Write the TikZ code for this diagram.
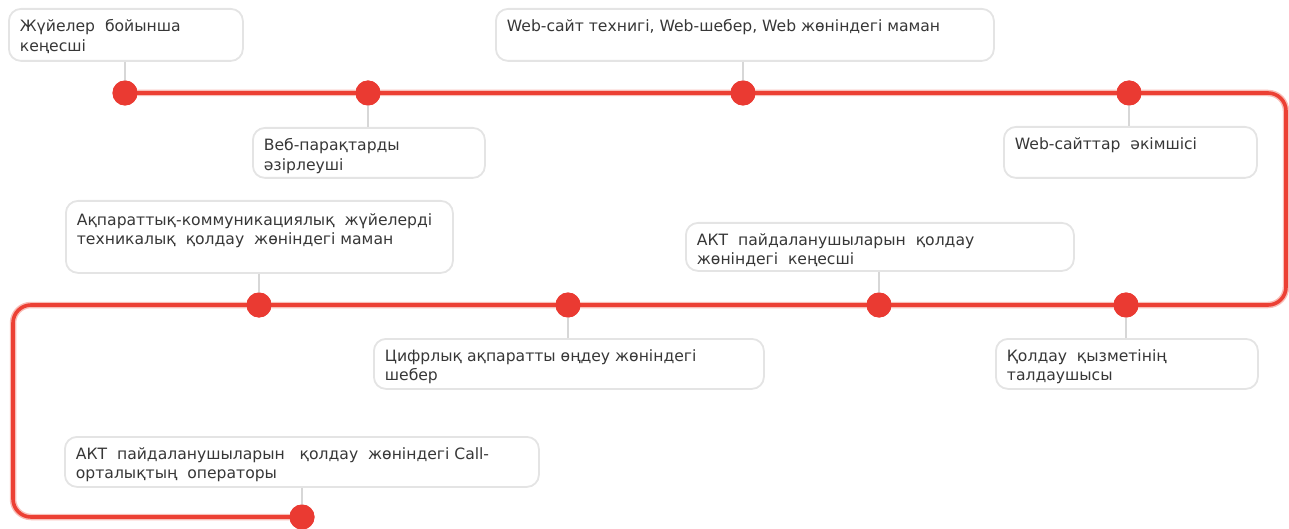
\documentclass[tikz,border=0pt]{standalone}
\usepackage{fontspec}
\setmainfont{DejaVu Sans}
\definecolor{linered}{RGB}{236,64,52}
\definecolor{halo}{RGB}{248,190,184}
\definecolor{dotred}{RGB}{234,58,50}
\definecolor{cardgray}{RGB}{228,228,228}
\definecolor{tickgray}{RGB}{215,215,215}
\definecolor{txtgray}{RGB}{55,55,55}
\newcommand\cardtext[3]{\parbox[t][#2][t]{#1}{\raggedright #3}}
\begin{document}
\begin{tikzpicture}[x=1pt,y=-1pt,
  card/.style={draw=cardgray, line width=1.8pt, rounded corners=12pt, fill=white,
    anchor=north west, inner xsep=11pt, inner ysep=10.5pt, text=txtgray,
    font=\fontsize{15.6}{19.5}\selectfont},
  dotnode/.style={circle, fill=dotred, minimum size=25pt, inner sep=0pt},
  tick/.style={draw=tickgray, line width=1.5pt},
  track/.style={draw=linered, line width=3.6pt, rounded corners=18pt},
  trackhalo/.style={draw=halo, line width=6.5pt, rounded corners=18pt}]
\useasboundingbox (0,0) rectangle (1289,529);

% dots
\node[dotnode] (d1) at (125,93) {};
\node[dotnode] (d2) at (368,93) {};
\node[dotnode] (d3) at (743,93) {};
\node[dotnode] (d4) at (1129,93) {};
\node[dotnode] (d5) at (259,305) {};
\node[dotnode] (d6) at (568,305) {};
\node[dotnode] (d7) at (879,305) {};
\node[dotnode] (d8) at (1126,305) {};
\node[dotnode] (d9) at (302,517) {};

\coordinate (c1) at (1286,93);
\coordinate (c2) at (1286,305);
\coordinate (c3) at (13,305);
\coordinate (c4) at (13,517);

% track
\draw[trackhalo] (d1.center) -- (c1) -- (c2) -- (c3) -- (c4) -- (d9.center);
\draw[track] (d1.center) -- (c1) -- (c2) -- (c3) -- (c4) -- (d9.center);

% cards
\node[card] (b1) at (8,8) {\cardtext{212pt}{31pt}{Жүйелер\ \ бойынша\\кеңесші}};
\node[card] (b2) at (252,127) {\cardtext{210pt}{29pt}{Веб-парақтарды\\әзірлеуші}};
\node[card] (b3) at (495,8) {\cardtext{476pt}{31pt}{Web-сайт технигі, Web-шебер, Web жөніндегі маман}};
\node[card] (b4) at (1003,126) {\cardtext{231pt}{30pt}{Web-сайттар\ \ әкімшісі}};
\node[card] (b5) at (65,200) {\cardtext{365pt}{51pt}{\vspace*{2pt}Ақпараттық-коммуникациялық\ \ жүйелерді\\техникалық\ \ қолдау\ \ жөніндегі маман}};
\node[card] (b6) at (373,338) {\cardtext{368pt}{29pt}{Цифрлық ақпаратты өңдеу жөніндегі\\шебер}};
\node[card] (b7) at (685,222) {\cardtext{366pt}{27pt}{АКТ\ \ пайдаланушыларын\ \ қолдау\\жөніндегі\ \ кеңесші}};
\node[card] (b8) at (995,338) {\cardtext{240pt}{29pt}{Қолдау\ \ қызметінің\\талдаушысы}};
\node[card] (b9) at (64,436) {\cardtext{452pt}{29pt}{АКТ\ \ пайдаланушыларын\ \ \ қолдау\ \ жөніндегі Call-\\орталықтың\ \ операторы}};

% ticks
\draw[tick] (d1 |- b1.south) -- (d1.center);
\draw[tick] (d2 |- b2.north) -- (d2.center);
\draw[tick] (d3 |- b3.south) -- (d3.center);
\draw[tick] (d4 |- b4.north) -- (d4.center);
\draw[tick] (d5 |- b5.south) -- (d5.center);
\draw[tick] (d6 |- b6.north) -- (d6.center);
\draw[tick] (d7 |- b7.south) -- (d7.center);
\draw[tick] (d8 |- b8.north) -- (d8.center);
\draw[tick] (d9 |- b9.south) -- (d9.center);

% redraw dots on top
\foreach \d in {d1,d2,d3,d4,d5,d6,d7,d8,d9}
  \fill[dotred] (\d.center) circle (12.5pt);
\end{tikzpicture}
\end{document}
